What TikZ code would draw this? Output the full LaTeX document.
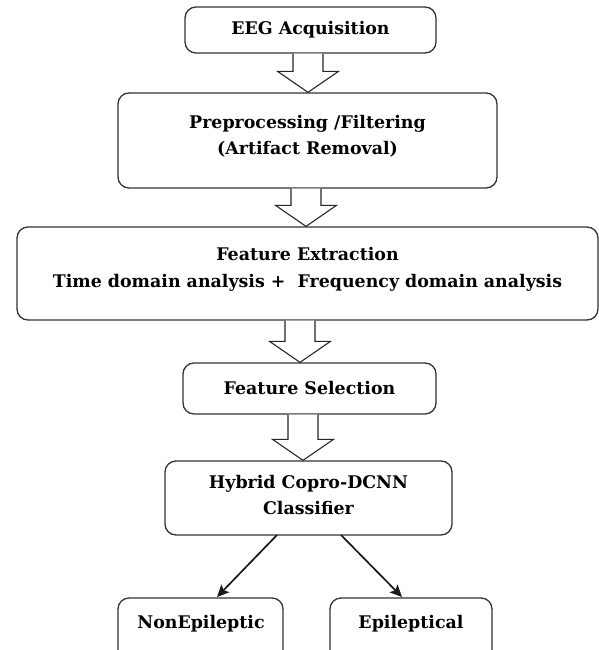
\documentclass[tikz,border=0pt]{standalone}
\usepackage{fontspec}
\setmainfont{DejaVu Serif}
\usetikzlibrary{calc,arrows.meta}

% wide hollow arrow between two stacked boxes: #1 upper node, #2 lower node, #3 x position
\newcommand\hollowarrow[3]{%
  \draw[fatarrow] let \p1=(#1.south), \p2=(#2.north) in
    (#3pt-15pt,\y1) -- (#3pt-15pt,\y2+21pt) -- (#3pt-30.5pt,\y2+21pt)
    -- (#3pt,\y2) -- (#3pt+30.5pt,\y2+21pt) -- (#3pt+15pt,\y2+21pt)
    -- (#3pt+15pt,\y1);}

\begin{document}
\begin{tikzpicture}[x=1pt,y=-1pt,
  labelfont/.style={font=\fontsize{17.4}{26.5}\selectfont\bfseries},
  stagebox/.style={draw=black!80, line width=1.3pt, rounded corners=11pt,
    fill=white, inner sep=0pt, align=center, labelfont},
  fatarrow/.style={draw=black!85, line width=1.1pt, fill=white, line join=miter},
  thinarrow/.style={draw=black!90, line width=1.7pt,
    -{Stealth[length=12pt,width=11pt,inset=2.5pt]}}]
\useasboundingbox (0,0) rectangle (599,650);

\node[stagebox, minimum width=251pt, minimum height=46pt] (eeg) at (310.5,30) {EEG Acquisition};
\node[stagebox, minimum width=379pt, minimum height=95pt, text depth=11pt] (pre) at (307.5,140.5)
  {Preprocessing /Filtering\\(Artifact Removal)};
\node[stagebox, minimum width=581pt, minimum height=93pt, text depth=12pt] (fe) at (307.5,273.5)
  {Feature Extraction\\Time domain analysis + \ Frequency domain analysis};
\node[stagebox, minimum width=253pt, minimum height=51pt] (fs) at (309.5,388.5) {Feature Selection};
\node[stagebox, minimum width=287pt, minimum height=74pt, text depth=6pt] (hy) at (308.5,498)
  {Hybrid Copro-DCNN\\Classifier};
\node[stagebox, minimum width=165pt, minimum height=64pt] (ne) at (200.5,630) {};
\node[stagebox, minimum width=162pt, minimum height=64pt] (ep) at (411,630) {};
\node[labelfont] (netext) at (201,624) {NonEpileptic};
\node[labelfont] (eptext) at (411,624) {Epileptical};

\hollowarrow{eeg}{pre}{308}
\hollowarrow{pre}{fe}{306}
\hollowarrow{fe}{fs}{300}
\hollowarrow{fs}{hy}{303}

\coordinate (hyL) at (277,535);
\coordinate (hyR) at (341,535);
\coordinate (neT) at (217,597);
\coordinate (epT) at (402,597);
\draw[thinarrow] (hyL) -- (neT);
\draw[thinarrow] (hyR) -- (epT);
\end{tikzpicture}
\end{document}
